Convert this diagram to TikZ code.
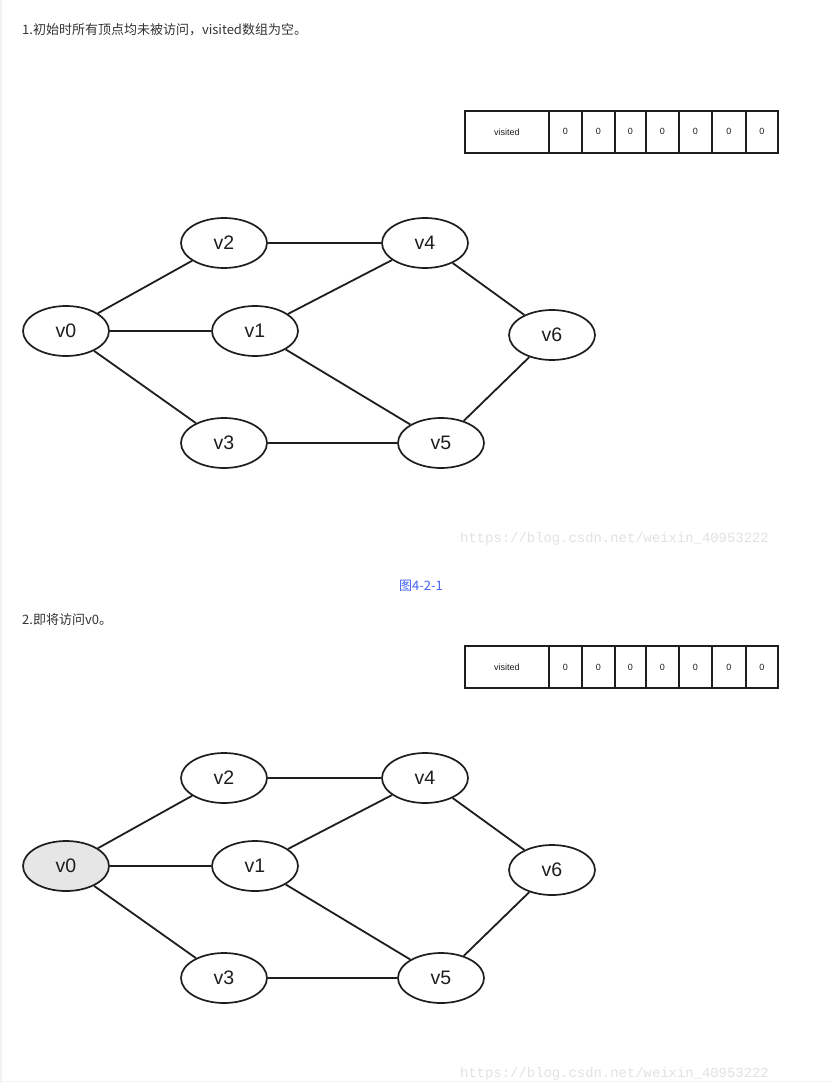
\documentclass[tikz,border=0pt]{standalone}
\usepackage{fontspec}
\setmainfont{Liberation Sans}
\newfontfamily\cjk{Noto Sans CJK SC}
\newfontfamily\wmfont{Liberation Mono}
\usetikzlibrary{shapes.geometric}
\definecolor{edgec}{HTML}{1E1E1E}
\definecolor{textc}{HTML}{333333}
\definecolor{capc}{HTML}{4563F7}
\definecolor{visitc}{HTML}{E6E6E6}
\definecolor{wmc}{HTML}{E2E2E2}
\begin{document}
\begin{tikzpicture}[x=1pt,y=-1pt,
  vert/.style={ellipse, draw=edgec, line width=1.7pt, minimum width=86pt,
    minimum height=50pt, inner sep=0pt, text=edgec,
    font=\fontsize{19.5}{22}\selectfont},
  edge/.style={draw=edgec, line width=1.8pt},
  cell/.style={rectangle, draw=edgec, line width=1.8pt, minimum height=42pt,
    inner sep=0pt, anchor=north west, text=edgec,
    font=\fontsize{9}{10}\selectfont},
  para/.style={anchor=west, text=textc, inner sep=0pt,
    font=\cjk\fontsize{13}{16}\selectfont},
  wmtext/.style={anchor=west, text=wmc, inner sep=0pt,
    font=\wmfont\fontsize{13.9}{16}\selectfont}]
\fill[white] (0,0) rectangle (832,1083);
\useasboundingbox (0,0) rectangle (832,1083);
\draw[black!5, line width=1.5pt] (0.75,0) -- (0.75,1083);
\draw[black!5, line width=1.5pt] (0,1081.5) -- (832,1081.5);

% one panel: visited array plus the graph
\newcommand\graphpanel[2]{%
  \begin{scope}[yshift=#1, name prefix=#2-]
    \node[cell, minimum width=84pt] (vis) at (464,110) {visited};
    \foreach \x/\w [count=\i] in {548/33,581/33,614/31,645/33,678/33,711/34,745/32}
      \node[cell, minimum width=\w pt] (c\i) at (\x,110) {0};
    \node[vert, fill=#2fill] (v0) at (66,331) {v0};
    \node[vert] (v1) at (255,331) {v1};
    \node[vert] (v2) at (224,243) {v2};
    \node[vert] (v3) at (224,443) {v3};
    \node[vert] (v4) at (425,243) {v4};
    \node[vert] (v5) at (441,443) {v5};
    \node[vert] (v6) at (552,335) {v6};
    \draw[edge] (v0) -- (v2);
    \draw[edge] (v0) -- (v1);
    \draw[edge] (v0) -- (v3);
    \draw[edge] (v2) -- (v4);
    \draw[edge] (v1) -- (v4);
    \draw[edge] (v1) -- (v5);
    \draw[edge] (v3) -- (v5);
    \draw[edge] (v4) -- (v6);
    \draw[edge] (v5) -- (v6);
  \end{scope}}
\colorlet{afill}{white}
\colorlet{bfill}{visitc}

\node[para] (t1) at (22,30) {1.初始时所有顶点均未被访问，visited数组为空。};
\graphpanel{0pt}{a}
\node[wmtext] (w1) at (460,539) {https://blog.csdn.net/weixin\_40953222};
\node[text=capc, inner sep=0pt, font=\cjk\fontsize{13}{16}\selectfont] (cap) at (421,586) {图4-2-1};

\node[para] (t2) at (22,620) {2.即将访问v0。};
\graphpanel{-535pt}{b}
\node[wmtext] (w2) at (460,1074) {https://blog.csdn.net/weixin\_40953222};
\end{tikzpicture}
\end{document}
